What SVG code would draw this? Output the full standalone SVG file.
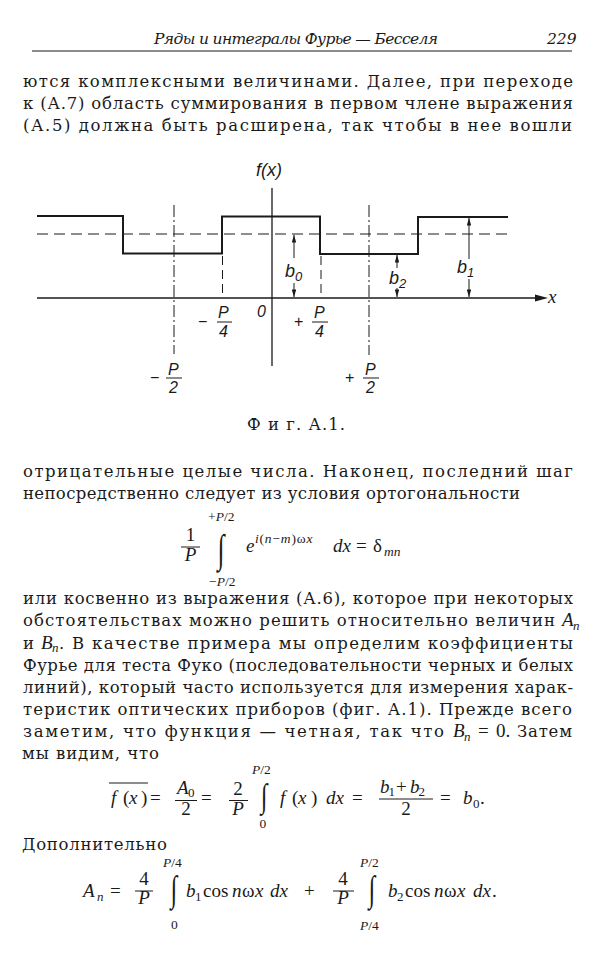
<svg xmlns="http://www.w3.org/2000/svg" width="600" height="964" viewBox="0 0 600 964">
<defs>
<style>
text{font-family:"Liberation Serif","DejaVu Serif",serif;fill:#1a1a1a}
.b{font-family:"DejaVu Serif","Liberation Serif",serif;font-size:16.5px}
.h{font-family:"DejaVu Serif","Liberation Serif",serif;font-size:15.5px;font-style:italic}
.i{font-style:italic}
.m{font-size:19px}
.s{font-size:13px}
.lim{font-size:13.5px}
.fs{font-family:"Liberation Sans","DejaVu Sans",sans-serif;font-style:italic;font-size:18px}
.fss{font-family:"Liberation Sans","DejaVu Sans",sans-serif;font-style:italic;font-size:13px}
.fl{font-family:"Liberation Sans","DejaVu Sans",sans-serif;font-size:16px}
.int{font-size:28px}
.ln{stroke:#1a1a1a;fill:none}
.bar{stroke:#1a1a1a;stroke-width:1}
</style>
<marker id="ah" viewBox="0 0 10 6" refX="10" refY="3" markerWidth="8" markerHeight="4.5" orient="auto" markerUnits="userSpaceOnUse"><path d="M0,0 L10,3 L0,6 z" fill="#1a1a1a"/></marker>
</defs>
<rect width="600" height="964" fill="#ffffff"/>

<g id="header">
<text class="h" x="154" y="44" textLength="284" lengthAdjust="spacing">Ряды и интегралы Фурье — Бесселя</text>
<text class="h" x="547" y="44">229</text>
<line class="ln" x1="32" y1="51" x2="572" y2="51" stroke-width="1.2"/>
</g>

<g id="text-top">
<text class="b" x="23" y="86.5" textLength="550" lengthAdjust="spacing">ются комплексными величинами. Далее, при переходе</text>
<text class="b" x="23" y="108.5" textLength="550" lengthAdjust="spacing">к (А.7) область суммирования в первом члене выражения</text>
<text class="b" x="23" y="130.5" textLength="549" lengthAdjust="spacing">(А.5) должна быть расширена, так чтобы в нее вошли</text>
</g>

<g id="figure">
<g id="guides">
<line class="ln" x1="37" y1="234" x2="512" y2="234" stroke-width="1" stroke-dasharray="11 6"/>
<line class="ln" x1="174" y1="205" x2="174" y2="354" stroke-width="1" stroke-dasharray="12 3 2 3"/>
<line class="ln" x1="369" y1="205" x2="369" y2="355" stroke-width="1" stroke-dasharray="12 3 2 3"/>
<line class="ln" x1="222.5" y1="256" x2="222.5" y2="298" stroke-width="1" stroke-dasharray="9 5"/>
<line class="ln" x1="321" y1="256" x2="321" y2="298" stroke-width="1" stroke-dasharray="9 5"/>
</g>
<g id="signal">
<path class="ln" d="M37,216 H123 V253.5 H222 V216.5 H320 V254 H418 V217 H508" stroke-width="2"/>
</g>
<g id="axes">
<line class="ln" x1="37" y1="298" x2="540" y2="298" stroke-width="1.5"/>
<path d="M548,298 L535,294.5 L535,301.5 z" fill="#1a1a1a"/>
<line class="ln" x1="272" y1="188" x2="272" y2="366" stroke-width="1.3"/>
<text class="fs" x="256" y="176">f(x)</text>
<text class="m i" x="548" y="303">x</text>
<text class="fl i" x="257" y="317">0</text>
</g>
<g id="dimensions">
<line class="ln" x1="294" y1="258" x2="294" y2="235" stroke-width="1" marker-end="url(#ah)"/>
<line class="ln" x1="294" y1="283" x2="294" y2="297" stroke-width="1" marker-end="url(#ah)"/>
<text class="fs" x="285" y="277">b</text><text class="fss" x="295" y="281">0</text>
<line class="ln" x1="397" y1="268" x2="397" y2="255" stroke-width="1" marker-end="url(#ah)"/>
<line class="ln" x1="397" y1="288" x2="397" y2="297" stroke-width="1" marker-end="url(#ah)"/>
<text class="fs" x="389" y="284">b</text><text class="fss" x="399" y="288">2</text>
<line class="ln" x1="469" y1="259" x2="469" y2="218" stroke-width="1" marker-end="url(#ah)"/>
<line class="ln" x1="469" y1="279" x2="469" y2="297" stroke-width="1" marker-end="url(#ah)"/>
<text class="fs" x="457" y="273">b</text><text class="fss" x="467" y="277">1</text>
</g>
<g id="ticks">
<text class="fl" x="198" y="327">−</text>
<text class="fl i" x="218" y="318">P</text>
<line class="bar" x1="217" y1="322" x2="232" y2="322"/>
<text class="fl i" x="219" y="337">4</text>
<text class="fl" x="294" y="327">+</text>
<text class="fl i" x="314" y="318">P</text>
<line class="bar" x1="312" y1="322" x2="328" y2="322"/>
<text class="fl i" x="315" y="337">4</text>
<text class="fl" x="150" y="383">−</text>
<text class="fl i" x="168" y="375">P</text>
<line class="bar" x1="166" y1="378" x2="182" y2="378"/>
<text class="fl i" x="169" y="393">2</text>
<text class="fl" x="345" y="383">+</text>
<text class="fl i" x="365" y="375">P</text>
<line class="bar" x1="363" y1="378" x2="379" y2="378"/>
<text class="fl i" x="366" y="393">2</text>
</g>
<text class="b" x="247" y="430" textLength="98" lengthAdjust="spacing">Ф и г. А.1.</text>
</g>

<g id="text-mid">
<text class="b" x="23" y="476.5" textLength="550" lengthAdjust="spacing">отрицательные целые числа. Наконец, последний шаг</text>
<text class="b" x="23" y="498.5" textLength="497" lengthAdjust="spacing">непосредственно следует из условия ортогональности</text>
</g>

<g id="eq-orthogonality">
<text class="m" x="190.5" y="541" font-size="16" text-anchor="middle">1</text>
<line class="bar" x1="181" y1="547" x2="200" y2="547"/>
<text class="m i" x="190.5" y="561" text-anchor="middle">P</text>
<text class="int" transform="translate(221,553) scale(0.9,1.42)" x="0" y="6.3" text-anchor="middle">∫</text>
<text class="lim" x="208" y="521">+<tspan class="i">P</tspan>/2</text>
<text class="lim" x="209" y="586">−<tspan class="i">P</tspan>/2</text>
<text class="m i" x="246" y="552">e</text>
<text class="lim" x="255" y="543" font-size="16" letter-spacing="0.8"><tspan class="i">i</tspan>(<tspan class="i">n</tspan>−<tspan class="i">m</tspan>)ω<tspan class="i">x</tspan></text>
<text class="m i" x="333" y="552">dx</text>
<text class="m" x="356" y="552">=</text>
<text class="m" x="373" y="552" font-size="20">δ</text>
<text class="lim i" x="384" y="556" font-size="15">mn</text>
</g>

<g id="text-main">
<text class="b" x="23" y="603.5" textLength="550" lengthAdjust="spacing">или косвенно из выражения (А.6), которое при некоторых</text>
<text class="b" x="23" y="626" textLength="532" lengthAdjust="spacing">обстоятельствах можно решить относительно величин</text>
<text class="m i" x="562" y="626">A</text><text class="s i" x="573" y="630">n</text>
<text class="b" x="23" y="648.5">и</text>
<text class="m i" x="41" y="648.5">B</text><text class="s i" x="52" y="652">n</text>
<text class="b" x="59" y="648.5" textLength="514" lengthAdjust="spacing">. В качестве примера мы определим коэффициенты</text>
<text class="b" x="23" y="670.5" textLength="550" lengthAdjust="spacing">Фурье для теста Фуко (последовательности черных и белых</text>
<text class="b" x="23" y="692.5" textLength="550" lengthAdjust="spacing">линий), который часто используется для измерения харак-</text>
<text class="b" x="23" y="715" textLength="549" lengthAdjust="spacing">теристик оптических приборов (фиг. А.1). Прежде всего</text>
<text class="b" x="23" y="737" textLength="421" lengthAdjust="spacing">заметим, что функция — четная, так что</text>
<text class="m i" x="453" y="737">B</text><text class="s i" x="464" y="741">n</text>
<text class="m" x="478" y="737">=</text>
<text class="m" x="496" y="737" font-size="18">0.</text>
<text class="b" x="517" y="737" textLength="55" lengthAdjust="spacing">Затем</text>
<text class="b" x="22" y="759" textLength="137" lengthAdjust="spacing">мы видим, что</text>
</g>

<g id="eq-mean">
<line class="bar" x1="109" y1="783" x2="148" y2="783"/>
<text class="m i" x="111" y="804">f</text>
<text class="m" x="123" y="804">(</text>
<text class="m i" x="129" y="804">x</text>
<text class="m" x="141" y="804">)</text>
<text class="m" x="150" y="804">=</text>
<text class="m i" x="177" y="794" font-size="16">A</text><text class="s" x="188" y="797" font-size="11">0</text>
<line class="bar" x1="175" y1="800.5" x2="197" y2="800.5"/>
<text class="m" x="186" y="815" font-size="16" text-anchor="middle">2</text>
<text class="m" x="201" y="804">=</text>
<text class="m" x="238" y="795" font-size="16" text-anchor="middle">2</text>
<line class="bar" x1="229" y1="800.5" x2="248" y2="800.5"/>
<text class="m i" x="238" y="815" font-size="16" text-anchor="middle">P</text>
<text class="int" transform="translate(264,799) scale(0.85,1.2)" x="0" y="6.3" text-anchor="middle">∫</text>
<text class="lim" x="252" y="774"><tspan class="i">P</tspan>/2</text>
<text class="lim" x="259.5" y="828">0</text>
<text class="m i" x="280" y="804">f</text>
<text class="m" x="292" y="804">(</text>
<text class="m i" x="298" y="804">x</text>
<text class="m" x="311" y="804">)</text>
<text class="m i" x="326" y="804">dx</text>
<text class="m" x="352" y="804">=</text>
<text class="m i" x="380" y="793" font-size="16">b</text><text class="s" x="388.5" y="796" font-size="11">1</text>
<text class="m" x="396" y="793" font-size="16">+</text>
<text class="m i" x="410" y="793" font-size="16">b</text><text class="s" x="418.5" y="796" font-size="11">2</text>
<line class="bar" x1="379" y1="799" x2="433" y2="799"/>
<text class="m" x="406" y="815" font-size="16" text-anchor="middle">2</text>
<text class="m" x="440" y="804">=</text>
<text class="m i" x="463" y="804">b</text><text class="s" x="473" y="808">0</text><text class="m" x="480" y="804">.</text>
</g>

<g id="text-add">
<text class="b" x="22" y="850" textLength="145" lengthAdjust="spacing">Дополнительно</text>
</g>

<g id="eq-An">
<text class="m i" x="83" y="897" font-size="21">A</text><text class="s i" x="97" y="901" font-size="15">n</text>
<text class="m" x="110" y="897">=</text>
<text class="m" x="144" y="885" font-size="16" text-anchor="middle">4</text>
<line class="bar" x1="135" y1="891" x2="153" y2="891"/>
<text class="m i" x="144" y="904" font-size="16" text-anchor="middle">P</text>
<text class="int" transform="translate(174,893) scale(0.85,1.3)" x="0" y="6.3" text-anchor="middle">∫</text>
<text class="lim" x="163" y="867"><tspan class="i">P</tspan>/4</text>
<text class="lim" x="171" y="929">0</text>
<text class="m i" x="186" y="897">b</text><text class="s" x="195" y="901">1</text>
<text class="m" x="203" y="897">cos</text>
<text class="m i" x="232" y="897">n</text><text class="m" x="242" y="897">ω</text><text class="m i" x="255" y="897">x</text>
<text class="m i" x="270" y="897">dx</text>
<text class="m" x="304" y="897">+</text>
<text class="m" x="343" y="885" font-size="16" text-anchor="middle">4</text>
<line class="bar" x1="333" y1="891" x2="354" y2="891"/>
<text class="m i" x="343" y="904" font-size="16" text-anchor="middle">P</text>
<text class="int" transform="translate(372,893) scale(0.85,1.3)" x="0" y="6.3" text-anchor="middle">∫</text>
<text class="lim" x="360" y="867"><tspan class="i">P</tspan>/2</text>
<text class="lim" x="360" y="930"><tspan class="i">P</tspan>/4</text>
<text class="m i" x="388" y="897">b</text><text class="s" x="397" y="901">2</text>
<text class="m" x="405" y="897">cos</text>
<text class="m i" x="434" y="897">n</text><text class="m" x="444" y="897">ω</text><text class="m i" x="457" y="897">x</text>
<text class="m i" x="473" y="897">dx</text><text class="m" x="492" y="897">.</text>
</g>
</svg>
